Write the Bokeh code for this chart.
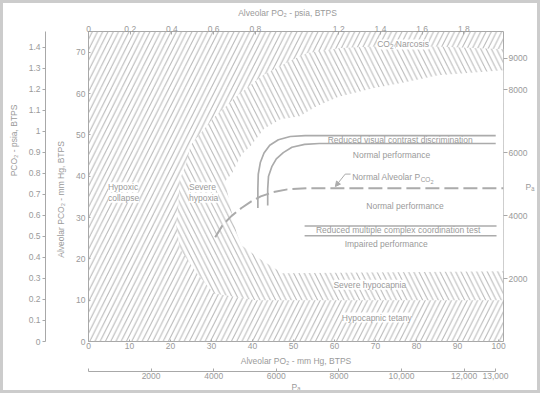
from bokeh.plotting import figure
from bokeh.models import Range1d, LinearAxis, FixedTicker, Label, Arrow, NormalHead, Title
from bokeh.embed import file_html
from bokeh.resources import INLINE

# ---------------- data ----------------
PO2_MAX = 101.2          # mm Hg at right frame edge
PCO2_MAX = 75.0          # mm Hg at top frame edge
PSIA_TOP_MAX = 1.99      # psia at right frame edge (top scale)
PSIA_LEFT_MAX = 1.475    # psia at top frame edge (outer left scale)
PA_RIGHT_MAX = 9850      # Pa at top frame edge (right scale)
PA_BOTTOM_MAX = 13258    # Pa at right frame edge (bottom scale)
PA_BOTTOM_END = 13000
PA_RIGHT_TITLE_AT = 4900  # the right-hand "Pa" title sits at this height of its scale

po2_ticks = [0, 10, 20, 30, 40, 50, 60, 70, 80, 90, 100]
pco2_ticks = [0, 10, 20, 30, 40, 50, 60, 70]
psia_top_ticks = [0, 0.2, 0.4, 0.6, 0.8, 1.2, 1.4, 1.6, 1.8]
psia_left_ticks = [0, 0.1, 0.2, 0.3, 0.4, 0.5, 0.6, 0.7, 0.8, 0.9, 1.0, 1.1, 1.2, 1.3, 1.4]
pa_right_ticks = [2000, 4000, 6000, 8000, 9000]
pa_bottom_ticks = [0, 2000, 4000, 6000, 8000, 10000, 12000, 13000]
pa_bottom_labels = {0: "", 10000: "10,000", 12000: "12,000", 13000: "13,000"}

title_top = "Alveolar PO\u2082 - psia, BTPS"
title_left_outer = "PCO\u2082 - psia, BTPS"
title_left_inner = "Alveolar PCO\u2082 - mm Hg, BTPS"
title_bottom = "Alveolar PO\u2082 - mm Hg, BTPS"
title_pa = "P\u2090"

# outer edge of the "severe" band (hatched \\), PO2 / PCO2 in mm Hg
severe_po2 = [101.2, 85.3, 69.4, 61.5, 53.4, 49.2, 42.6, 36.4, 30.4, 24.9, 23.8, 22.3,
              21.9, 21.4, 22.3, 26.6, 30.6, 40.9, 101.2]
severe_pco2 = [70.7, 71.4, 71.4, 71.0, 69.8, 67.9, 64.5, 59.6, 54.0, 47.5, 42.8, 39.3,
               32.8, 28.2, 22.4, 16.3, 11.6, 10.0, 10.0]
# unhatched (tolerable) region
safe_po2 = [101.2, 85.3, 77.2, 69.4, 61.0, 55.6, 51.5, 46.8, 42.8, 39.7, 37.3, 34.9,
            33.3, 34.7, 36.1, 37.3, 41.6, 47.3, 101.2]
safe_pco2 = [65.6, 64.4, 62.7, 61.3, 59.2, 56.9, 54.5, 53.8, 51.5, 47.5, 45.2, 40.5,
             38.8, 32.2, 26.3, 23.3, 20.1, 16.5, 17.0]
# reduced visual contrast discrimination (double line)
vis_outer_po2 = [41.3, 41.3, 41.4, 41.9, 42.8, 44.2, 46.3, 49.2, 52.8, 99.3]
vis_outer_pco2 = [32.3, 36.9, 40.5, 43.3, 45.6, 47.5, 48.8, 49.6, 49.8, 49.8]
vis_inner_po2 = [43.7, 43.7, 43.9, 44.7, 45.8, 47.5, 49.6, 52.7, 56.3, 99.3]
vis_inner_pco2 = [32.9, 36.9, 40.0, 42.3, 44.2, 45.7, 47.0, 47.7, 47.9, 47.9]
# normal alveolar PCO2 (dashed)
norm_po2 = [30.9, 32.8, 34.9, 37.3, 39.7, 42.0, 44.9, 48.5, 53.2, 101.2]
norm_pco2 = [25.2, 28.3, 30.4, 32.3, 33.9, 35.1, 36.1, 36.8, 37.1, 37.1]
# reduced multiple complex coordination test (double line)
coord_po2 = [52.7, 99.5]
coord_upper_pco2 = [27.96, 27.96]
coord_lower_pco2 = [25.6, 25.6]
# leader of the "Normal Alveolar PCO2" label
leader_po2 = [63.9, 62.6]
leader_pco2 = [40.5, 40.5]
leader_tip = (60.2, 37.5)

# ---------------- styling ----------------
FONT = "Liberation Sans"
TXT = "#9a9a9a"
LN = "#ababab"
HATCH = "#b5b5b5"
FRAME = "#a8a8a8"
FS = 8.5

W, H = 540, 393          # outer size, including the 3px border
BORDER = 3
WC, HC = W - 2 * BORDER, H - 2 * BORDER   # drawing canvas
FL, FT, FW, FH = 80, 28, 414, 304

p = figure(width=W, height=H, x_range=Range1d(0, PO2_MAX), y_range=Range1d(0, PCO2_MAX),
           x_axis_type=None, y_axis_type=None, output_backend="svg", toolbar_location=None,
           min_border_left=FL, min_border_right=WC - FL - FW, min_border_top=FT,
           min_border_bottom=HC - FT - FH)
p.styles = {"border": f"{BORDER}px solid #cccccc"}
p.outline_line_color = FRAME
p.outline_line_width = 1
p.background_fill_color = "white"
p.border_fill_color = "white"

p.extra_x_ranges = {"psia_top": Range1d(0, PSIA_TOP_MAX), "pa_bottom": Range1d(0, PA_BOTTOM_MAX)}
p.extra_y_ranges = {"psia_left": Range1d(0, PSIA_LEFT_MAX), "pa_right": Range1d(0, PA_RIGHT_MAX)}

AW = {' ': 278, '-': 333, ',': 278, '.': 278, 'A': 667, 'B': 667, 'C': 722, 'D': 722, 'E': 667,
      'F': 611, 'G': 778, 'H': 722, 'I': 278, 'N': 722, 'O': 778, 'P': 667, 'R': 722, 'S': 667,
      'T': 611, 'a': 556, 'b': 556, 'c': 500, 'd': 556, 'e': 556, 'f': 278, 'g': 556, 'h': 556,
      'i': 222, 'k': 500, 'l': 222, 'm': 833, 'n': 556, 'o': 556, 'p': 556, 'r': 333, 's': 500,
      't': 278, 'u': 556, 'v': 500, 'x': 500, 'y': 500, '\u2082': 380, '\u2090': 380}


def tw(s, size):
    return sum(AW.get(c, 556) for c in s) * size / 1000.0


def style(ax):
    ax.major_label_text_font = FONT
    ax.major_label_text_font_size = f"{FS}px"
    ax.major_label_text_color = TXT
    ax.major_tick_line_color = FRAME
    ax.minor_tick_line_color = None
    ax.axis_label_text_font_size = f"{FS}px"
    ax.axis_label_text_font = FONT
    ax.axis_label_text_color = TXT
    ax.axis_label_text_font_style = "normal"
    return ax


def side_title(text, align, offset, standoff, valign):
    return Title(text=text, align=align, offset=offset, standoff=standoff, vertical_align=valign,
                 text_font=FONT, text_font_size=f"{FS}px", text_color=TXT,
                 text_font_style="normal")


# ---- left: mm Hg axis, its title, psia axis, its title ----
ax_l1 = style(LinearAxis(ticker=FixedTicker(ticks=pco2_ticks), major_tick_in=2, major_tick_out=0,
                         major_label_standoff=3, axis_line_color=None))
p.add_layout(ax_l1, "left")
c_inner = 190.0      # canvas y of the title centre
p.add_layout(side_title(title_left_inner, "left",
                        (FT + FH) - (c_inner + tw(title_left_inner, FS) / 2), 16, "bottom"), "left")
ax_l2 = style(LinearAxis(y_range_name="psia_left", ticker=FixedTicker(ticks=psia_left_ticks),
                         major_label_overrides={0: "0"}, major_tick_in=0, major_tick_out=3,
                         major_label_standoff=2, axis_line_color=FRAME))
p.add_layout(ax_l2, "left")
c_outer = 131.0
p.add_layout(side_title(title_left_outer, "left",
                        (FT + FH) - (c_outer + tw(title_left_outer, FS) / 2), 10, "top"), "left")

# ---- top ----
ax_t = style(LinearAxis(x_range_name="psia_top", ticker=FixedTicker(ticks=psia_top_ticks),
                        major_label_overrides={0: "0"}, major_tick_in=3, major_tick_out=0,
                        major_label_standoff=0, axis_line_color=None))
p.add_layout(ax_t, "above")
c_top = 279.0
p.add_layout(side_title(title_top, "left", c_top - tw(title_top, FS) / 2 - FL, 6, "top"), "above")

# ---- right ----
ax_r = style(LinearAxis(y_range_name="pa_right", ticker=FixedTicker(ticks=pa_right_ticks),
                        major_tick_in=0, major_tick_out=4, major_label_standoff=1,
                        axis_line_color=None))
p.add_layout(ax_r, "right")
ax_r2 = style(LinearAxis(y_range_name="pa_right", ticker=FixedTicker(ticks=[PA_RIGHT_TITLE_AT]),
                         major_label_overrides={PA_RIGHT_TITLE_AT: title_pa},
                         major_tick_in=0, major_tick_out=0, major_label_standoff=-5,
                         axis_line_color=None))
ax_r2.major_tick_line_color = None
p.add_layout(ax_r2, "right")

# ---- bottom ----
ax_b1 = style(LinearAxis(ticker=FixedTicker(ticks=po2_ticks), major_tick_in=2, major_tick_out=0,
                         major_label_standoff=1, axis_line_color=None))
p.add_layout(ax_b1, "below")
p.add_layout(side_title(title_bottom, "center", 0, 8, "top"), "below")
ax_b2 = style(LinearAxis(x_range_name="pa_bottom", ticker=FixedTicker(ticks=pa_bottom_ticks),
                         bounds=(0, PA_BOTTOM_END), major_label_overrides=pa_bottom_labels,
                         major_tick_in=3, major_tick_out=0, major_label_standoff=1,
                         axis_line_color=FRAME, axis_label=title_pa, axis_label_standoff=0))
p.add_layout(ax_b2, "below")

# ---------------- hatched regions ----------------
p.quad(left=[0], right=[PO2_MAX], bottom=[0], top=[PCO2_MAX], fill_color=None, line_color=None,
       hatch_pattern="/", hatch_scale=10.5, hatch_color=HATCH, hatch_weight=1)
p.patch(severe_po2, severe_pco2, fill_color="white", line_color=None,
        hatch_pattern="\\", hatch_scale=10.5, hatch_color=HATCH, hatch_weight=1)
p.patch(safe_po2, safe_pco2, fill_color="white", line_color=None)

# ---------------- curves ----------------
p.line(vis_outer_po2, vis_outer_pco2, line_color=LN, line_width=1.7)
p.line(vis_inner_po2, vis_inner_pco2, line_color=LN, line_width=1.7)
p.line(norm_po2, norm_pco2, line_color=LN, line_width=2, line_dash="14 5")
p.line(coord_po2, coord_upper_pco2, line_color=LN, line_width=1.5)
p.line(coord_po2, coord_lower_pco2, line_color=LN, line_width=1.5)
p.line(leader_po2, leader_pco2, line_color=LN, line_width=1)
p.add_layout(Arrow(end=NormalHead(size=5, fill_color=LN, line_color=LN),
                   x_start=leader_po2[-1], y_start=leader_pco2[-1],
                   x_end=leader_tip[0], y_end=leader_tip[1], line_color=LN, line_width=1))

# ---------------- in-plot texts ----------------
SIZES = {0: FS, 1: 6.5, 2: 5.5}
DROPS = {0: 0.0, 1: 2.5, 2: 4.5}


def rich(x, y, parts, align="center", bg=None):
    total = sum(tw(t, SIZES[l]) for t, l in parts)
    pos = -total / 2 if align == "center" else 0.0
    for t, l in parts:
        lead = len(t) - len(t.lstrip(" "))
        pos += tw(" " * lead, SIZES[l])
        t = t.lstrip(" ")
        p.add_layout(Label(x=x, y=y, x_offset=pos, y_offset=-3 - DROPS[l], text=t,
                           text_font=FONT, text_font_size=f"{SIZES[l]}px", text_color=TXT,
                           text_align="left", text_baseline="alphabetic",
                           background_fill_color=bg))
        pos += tw(t, SIZES[l])


rich(76.7, 72.6, [("CO", 0), ("2", 1), (" Narcosis", 0)], bg="white")
rich(64.3, 40.5, [("Normal Alveolar P", 0), ("CO", 1), ("2", 2)], align="left")

plain = [
    ("Reduced visual contrast discrimination", 76.0, 48.8, "center", None),
    ("Normal performance", 73.9, 45.2, "center", None),
    ("Normal performance", 77.2, 32.7, "center", None),
    ("Reduced multiple complex coordination test", 75.5, 26.9, "center", None),
    ("Impaired performance", 72.6, 23.6, "center", None),
    ("Severe hypocapnia", 68.6, 13.7, "center", "white"),
    ("Hypocapnic tetany", 70.3, 5.8, "center", "white"),
    ("Hypoxic", 4.75, 37.3, "left", "white"),
    ("collapse", 4.75, 34.8, "left", "white"),
    ("Severe", 24.5, 37.3, "left", "white"),
    ("hypoxia", 24.5, 34.8, "left", "white"),
]
for t, x, y, al, bg in plain:
    p.add_layout(Label(x=x, y=y, text=t, text_font=FONT, text_font_size=f"{FS}px",
                       text_color=TXT, text_align=al, text_baseline="middle",
                       background_fill_color=bg))

open("out.html", "w").write(file_html(p, INLINE))
